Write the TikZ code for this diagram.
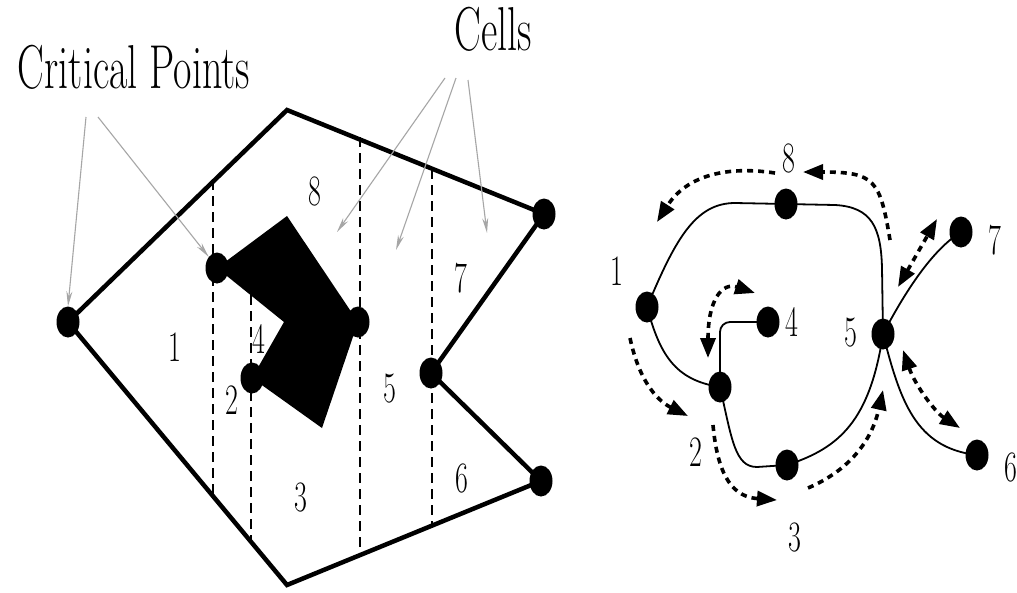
\documentclass[tikz,border=0pt]{standalone}
\usetikzlibrary{shapes.geometric,arrows.meta}
\newcommand{\stretchy}[1]{\scalebox{1}[1.55]{#1}}
\tikzset{
  dot/.style={ellipse, fill=black, minimum width=23pt, minimum height=31pt, inner sep=0pt},
  wall/.style={line width=4.5pt, line join=miter, line cap=round},
  cutline/.style={line width=2.2pt, dash pattern=on 10pt off 6pt},
  edge/.style={line width=1.8pt},
  route/.style={line width=3.6pt, dash pattern=on 6pt off 5pt},
  tip/.style={-{Triangle[length=20pt,width=15pt]}},
  tips/.style={{Triangle[length=20pt,width=15pt]}-{Triangle[length=20pt,width=15pt]}},
  pointer/.style={black!35, line width=1.1pt, -{Stealth[length=15pt,width=6pt]}},
  lbl/.style={font=\fontsize{28}{30}\selectfont, inner sep=0pt},
  title/.style={font=\fontsize{40}{42}\selectfont, inner sep=0pt, anchor=base}
}
\begin{document}
\begin{tikzpicture}[x=1pt,y=-1pt]
\useasboundingbox[fill=white] (0,0) rectangle (1017,592);

% ---------- left: polygon with obstacle ----------
\coordinate (top) at (287,110);
\coordinate (bot) at (287,585);
\coordinate (o1) at (287,216);
\coordinate (o2) at (322,428);
\coordinate (o3) at (284,322);
\coordinate (pA) at (68,322);
\coordinate (pB) at (217,268);
\coordinate (pC) at (358,322);
\coordinate (pD) at (252,378);
\coordinate (pE) at (544,214);
\coordinate (pF) at (431,373);
\coordinate (pG) at (541,481);

\fill[black] (pB) -- (o1) -- (pC) -- (o2) -- (pD) -- (o3) -- cycle;

\draw[cutline] (213,180) -- (213,496);
\draw[cutline] (251,295) -- (251,542);
\draw[cutline] (360,137) -- (360,555);
\draw[cutline] (432,169) -- (432,526);

\draw[wall] (pA) -- (top) -- (pE) -- (pF) -- (pG) -- (bot) -- cycle;

\foreach \p in {pA,pB,pC,pD,pE,pF,pG}
  \node[dot] (d\p) at (\p) {};

\node[lbl] (c8) at (315,191) {\stretchy{8}};
\node[lbl] (c7) at (461,278) {\stretchy{7}};
\node[lbl] (c1) at (175,347) {\stretchy{1}};
\node[lbl] (c4) at (259,339) {\stretchy{4}};
\node[lbl] (c2) at (232,400) {\stretchy{2}};
\node[lbl] (c5) at (390,389) {\stretchy{5}};
\node[lbl] (c3) at (301,497) {\stretchy{3}};
\node[lbl] (c6) at (462,478) {\stretchy{6}};

\node[title] (crit) at (134,88) {\stretchy{Critical Points}};
\node[title] (cells) at (493,50) {\stretchy{Cells}};

\coordinate (k1) at (86,117);
\coordinate (k2) at (98,117);
\coordinate (s1) at (445,78);
\coordinate (s2) at (456,78);
\coordinate (s3) at (468,80);
\coordinate (e1) at (337,232);
\coordinate (e2) at (396,250);
\coordinate (e3) at (487,233);
\draw[pointer] (k1) -- (dpA.north);
\draw[pointer] (k2) -- (dpB.north west);
\draw[pointer] (s1) -- (e1);
\draw[pointer] (s2) -- (e2);
\draw[pointer] (s3) -- (e3);

% ---------- right: connectivity graph ----------
\node[dot] (g1) at (647,307) {};
\node[dot] (g8) at (786,204) {};
\node[dot] (g4) at (768,322) {};
\node[dot] (g2) at (720,387) {};
\node[dot] (g3) at (787,465) {};
\node[dot] (g5) at (883,334) {};
\node[dot] (g7) at (961,232) {};
\node[dot] (g6) at (977,455) {};

\node[lbl] (t1) at (617,271) {\stretchy{1}};
\node[lbl] (t8) at (789,158) {\stretchy{8}};
\node[lbl] (t4) at (792,322) {\stretchy{4}};
\node[lbl] (t5) at (851,333) {\stretchy{5}};
\node[lbl] (t7) at (995,240) {\stretchy{7}};
\node[lbl] (t2) at (696,452) {\stretchy{2}};
\node[lbl] (t3) at (795,537) {\stretchy{3}};
\node[lbl] (t6) at (1011,467) {\stretchy{6}};

\draw[edge] (g1.center) .. controls (675,240) and (695,203) .. (735,203) -- (g8.center);
\draw[edge] (g8.center) -- (835,205) .. controls (872,207) and (881,228) .. (882,268) -- (g5.center);
\draw[edge] (g1.center) .. controls (660,355) and (675,380) .. (g2.center);
\draw[edge, rounded corners=10pt] (g2.center) |- (g4.center);
\draw[edge] (g2.center) .. controls (732,440) and (735,467) .. (757,467) -- (g3.center);
\draw[edge] (g3.center) .. controls (840,448) and (870,420) .. (g5.center);
\draw[edge] (g5.center) .. controls (905,292) and (932,250) .. (g7.center);
\draw[edge] (g5.center) .. controls (900,400) and (915,448) .. (g6.center);

\coordinate (r1a) at (890,240);  \coordinate (r1b) at (803,172);
\coordinate (r2a) at (775,173);  \coordinate (r2b) at (657,222);
\coordinate (r3a) at (630,338);  \coordinate (r3b) at (688,416);
\coordinate (r4a) at (713,425);  \coordinate (r4b) at (777,500);
\coordinate (r5a) at (808,488);  \coordinate (r5b) at (883,390);
\coordinate (r6a) at (903,350);  \coordinate (r6b) at (960,428);
\coordinate (r7a) at (898,287);  \coordinate (r7b) at (937,219);
\coordinate (r8a) at (708,358);  \coordinate (r8b) at (755,293);

\draw[route, tip] (r1a) .. controls (880,180) and (875,172) .. (r1b);
\draw[route, tip] (r2a) .. controls (722,165) and (685,178) .. (r2b);
\draw[route, tip] (r3a) .. controls (640,385) and (660,402) .. (r3b);
\draw[route, tip] (r4a) .. controls (718,480) and (735,497) .. (r4b);
\draw[route, tip] (r5a) .. controls (850,470) and (872,440) .. (r5b);
\draw[route, tips] (r6a) .. controls (915,385) and (935,412) .. (r6b);
\draw[route, tips] (r7a) -- (r7b);
\draw[route, tips] (r8a) .. controls (708,300) and (722,282) .. (r8b);
\end{tikzpicture}
\end{document}
